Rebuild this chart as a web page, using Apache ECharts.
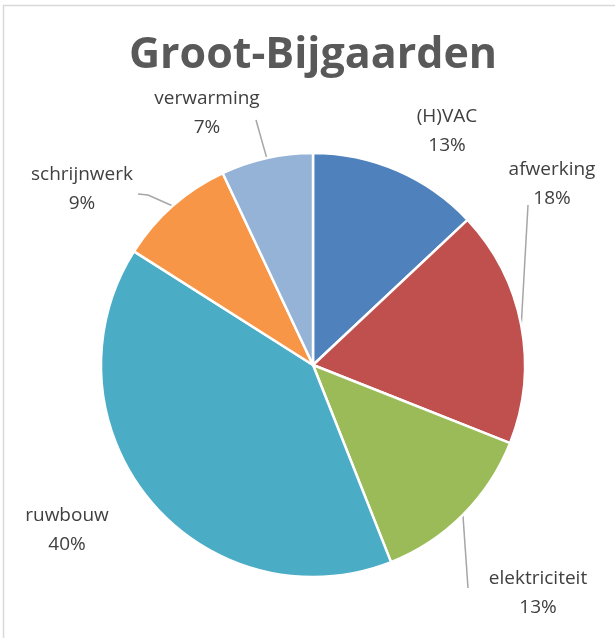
<!DOCTYPE html>
<html>
<head>
<meta charset="utf-8">
<style>
  html, body { margin: 0; padding: 0; background: #ffffff; }
  #chart { width: 615px; height: 638px; }
</style>
<script src="https://cdn.jsdelivr.net/npm/echarts@6/dist/echarts.min.js"></script>
</head>
<body>
<div id="chart"></div>
<script>
// Cost share per trade (percent)
const categories = ['(H)VAC', 'afwerking', 'elektriciteit', 'ruwbouw', 'schrijnwerk', 'verwarming'];
const shares = [13, 18, 13, 40, 9, 7];
const sliceColors = ['#4F81BD', '#C0504D', '#9BBB59', '#4BACC6', '#F79646', '#95B3D7'];

// Where each label sits, and how its leader line bends (offsets from the label centre)
const labelPlacement = {
  '(H)VAC':        { x: 447, y: 131, line: null },
  'afwerking':     { x: 552, y: 184, line: [[-24, 21]] },
  'elektriciteit': { x: 538, y: 593, line: [[-70, -5]] },
  'ruwbouw':       { x: 67,  y: 530, line: null },
  'schrijnwerk':   { x: 82,  y: 189, line: [[66, 6], [56, 5]] },
  'verwarming':    { x: 207, y: 113, line: [[49, 7]] }
};

const chart = echarts.init(document.getElementById('chart'), null, { renderer: 'canvas' });

const pieData = categories.map((name, i) => ({
  name: name,
  value: shares[i],
  itemStyle: { color: sliceColors[i] },
  labelLine: { show: !!labelPlacement[name].line }
}));

chart.setOption({
  animation: false,
  backgroundColor: '#ffffff',
  title: {
    text: 'Groot-Bijgaarden',
    left: 308,
    top: 29,
    textAlign: 'center',
    textStyle: {
      fontFamily: 'Open Sans',
      fontWeight: 'bold',
      fontSize: 43,
      color: '#595959'
    }
  },
  graphic: [{
    type: 'rect',
    silent: true,
    shape: { x: 3.5, y: 5.5, width: 800, height: 800 },
    style: { fill: 'none', stroke: '#d9d9d9', lineWidth: 1.5 }
  }],
  series: [{
    type: 'pie',
    center: [313, 365],
    radius: 212,
    startAngle: 90,
    clockwise: true,
    data: pieData,
    itemStyle: { borderColor: '#ffffff', borderWidth: 2.5 },
    label: {
      show: true,
      position: 'outside',
      formatter: '{b}\n{c}%',
      fontFamily: 'Open Sans',
      fontSize: 19,
      lineHeight: 29,
      color: '#404040',
      align: 'center',
      overflow: 'none'
    },
    labelLine: {
      show: true,
      length: 10,
      length2: 10,
      smooth: false,
      lineStyle: { color: '#a6a6a6', width: 1.5 }
    },
    labelLayout: function (params) {
      const name = categories[params.dataIndex];
      const p = labelPlacement[name];
      const out = { x: p.x, y: p.y, align: 'center', verticalAlign: 'middle' };
      if (p.line && params.labelLinePoints) {
        const start = params.labelLinePoints[0];
        const pts = [[start[0], start[1]]];
        p.line.forEach(function (o) { pts.push([p.x + o[0], p.y + o[1]]); });
        out.labelLinePoints = pts;
      }
      return out;
    }
  }]
});
</script>
</body>
</html>
